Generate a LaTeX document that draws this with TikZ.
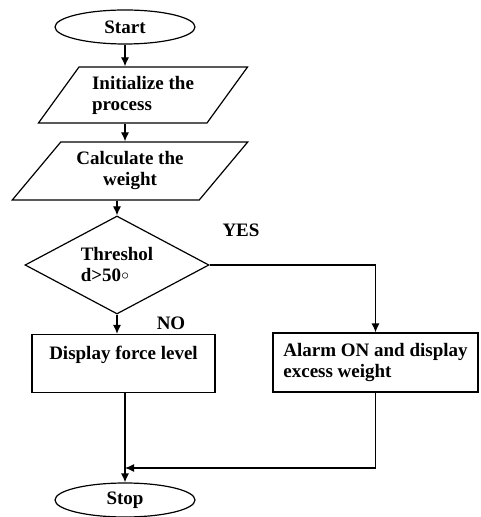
\documentclass[tikz,border=0pt]{standalone}
\usepackage{fontspec}
\setmainfont{Liberation Serif}
\usepackage{tikz}
\usetikzlibrary{arrows.meta,positioning,shapes.geometric}
\tikzset{
  flowfont/.style={font=\fontsize{9.5}{10.5}\selectfont\bfseries},
  termbox/.style ={draw, ellipse, flowfont, minimum width=70pt,
                   minimum height=17pt, inner sep=0pt, line width=0.6pt},
  iobox/.style   ={draw, trapezium, trapezium stretches=true, flowfont,
                   align=left, inner sep=2pt, line width=0.6pt},
  decbox/.style  ={draw, diamond, flowfont, aspect=1.9, align=left,
                   minimum width=92pt, minimum height=49pt,
                   inner sep=1pt, line width=0.6pt},
  procbox/.style ={draw, rectangle, flowfont, minimum height=29pt,
                   inner sep=2pt, line width=0.6pt},
  lbl/.style     ={flowfont, inner sep=0pt},
  arr/.style     ={-{Latex[length=4.5pt,width=4pt]}, line width=0.6pt},
}

\begin{document}
\begin{tikzpicture}[x=0.5pt,y=-0.5pt]
  \useasboundingbox (0,0) rectangle (480,517);
  \node[termbox] (start) at (125,27) {Start};
  \node[iobox, minimum width=105pt, minimum height=28pt,
        trapezium left angle=53, trapezium right angle=127]
        (init) at (143,95) {Initialize the\\process};
  \node[iobox, minimum width=118pt, minimum height=29pt, align=center,
        trapezium left angle=49, trapezium right angle=131]
        (calc) at (130,171) {Calculate the\\weight};
  \node[decbox] (thresh) at (117,265)
        {Threshol\\d>50\raisebox{1.3pt}{$\scriptstyle\circ$}};
  \node[procbox, minimum width=91.5pt, align=center]
        (disp) at (123.5,363.5) {Display force level\\\mbox{}};
  \node[procbox, minimum width=102.5pt, minimum height=29.5pt, align=left]
        (alarm) at (375.5,362.5) {Alarm ON and display\\excess weight};
  \node[termbox] (stop) at (125,500) {Stop};
  \node[lbl] (yes) at (241,230) {YES};
  \node[lbl] (no) at (171,323) {NO};
  \coordinate (merge) at (125,468);

  \draw[arr] (start.south) -- (start.south |- init.north);
  \draw[arr] (start.south |- init.south) -- (start.south |- calc.north);
  \draw[arr] (thresh.north |- calc.south) -- (thresh.north);
  \draw[arr] (thresh.south) -- (thresh.south |- disp.north);
  \draw[arr] (thresh.east) -| (alarm.north);
  \draw[arr] (stop.north |- disp.south) -- (stop.north);
  \draw[arr] (alarm.south) |- (merge);
\end{tikzpicture}
\end{document}
